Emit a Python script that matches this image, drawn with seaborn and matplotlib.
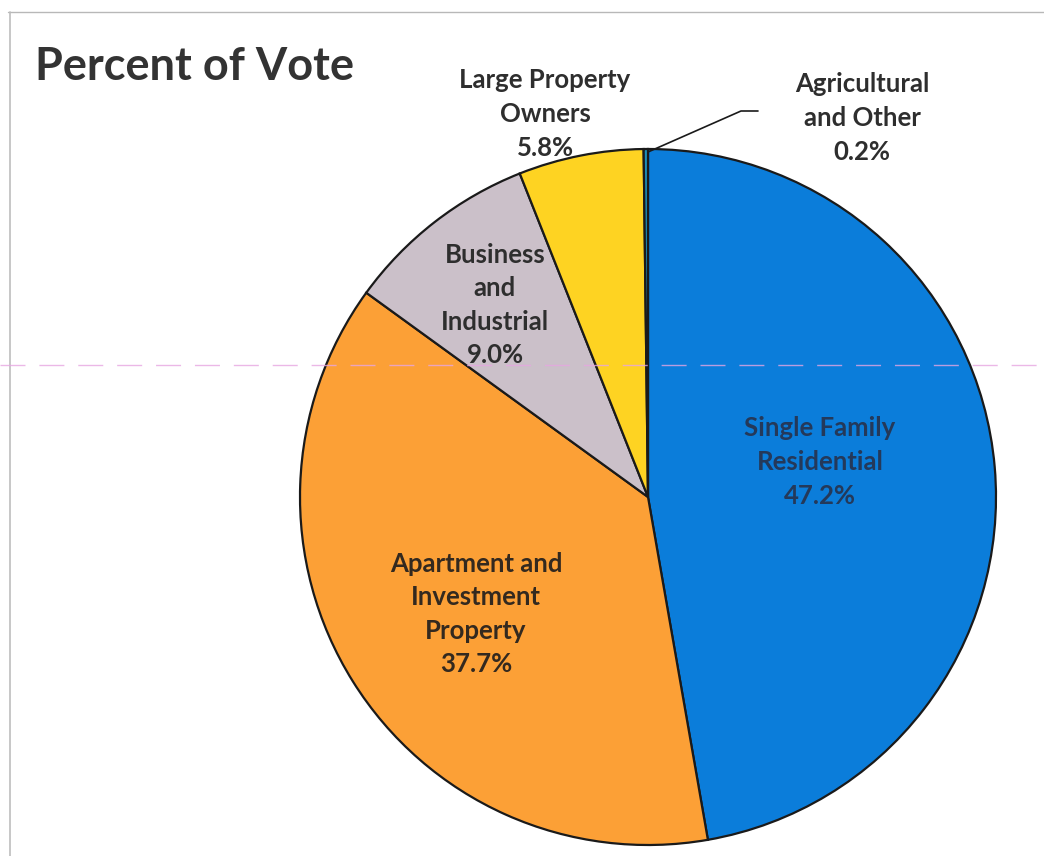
import matplotlib
matplotlib.use("Agg")
import matplotlib.pyplot as plt
import seaborn as sns

# Share of the vote by property class
categories = [
    "Single Family\nResidential",
    "Apartment and\nInvestment\nProperty",
    "Business\nand\nIndustrial",
    "Large Property\nOwners",
    "Agricultural\nand Other",
]
shares = [47.2, 37.7, 9.0, 5.8, 0.2]
slice_colors = ["#0B7DDA", "#FCA036", "#CBC0C9", "#FED322", "#1E8FB8"]
title = "Percent of Vote"

sns.set_theme(style="white")
plt.rcParams["font.family"] = ["Lato", "DejaVu Sans"]

W, H = 1044, 856
fig = plt.figure(figsize=(W / 100, H / 100), dpi=100)
ax = fig.add_axes([0, 0, 1, 1])

# pie in pixel-like units (y axis inverted, so flip the direction)
cx, cy, r = 648, 497, 348
wedges, _ = ax.pie(
    shares,
    colors=sns.color_palette(slice_colors),
    startangle=-90,
    counterclock=True,
    center=(cx, cy),
    radius=r,
    wedgeprops=dict(edgecolor="#1a1a1a", linewidth=1.6),
    frame=True,
)
ax.set_xlim(0, W)
ax.set_ylim(H, 0)
ax.set_aspect("equal")
ax.axis("off")

# page border lines
ax.plot([8, W], [12, 12], color="#b8b8b8", lw=1.0, zorder=1)
ax.plot([10, 10], [12, H], color="#bdbdbd", lw=1.2, zorder=1)

ax.text(35, 67, title, fontsize=32.5, fontweight="bold", color="#333333",
        ha="left", va="center")

label_kw = dict(fontsize=18.5, fontweight="bold", ha="center", va="center",
                linespacing=1.48)
positions = [(820, 462), (476, 614), (495, 305), (545, 114), (862, 118)]
text_colors = ["#24395a", "#33291f", "#2e2e2e", "#2e2e2e", "#2e2e2e"]
for name, val, (x, y), tc in zip(categories, shares, positions, text_colors):
    ax.text(x, y, f"{name}\n{val:.1f}%", color=tc, **label_kw)

# leader line for the thin slice
ax.plot([648, 741, 758], [152, 111, 111], color="#1a1a1a", lw=1.2, zorder=5)

# faint scan streak across the page
ax.plot([0, W], [365, 365], color="#E6A6E2", lw=1.0, ls=(0, (18, 10)),
        alpha=0.8, zorder=4)

fig.savefig("out.png", dpi=100, facecolor="white")
